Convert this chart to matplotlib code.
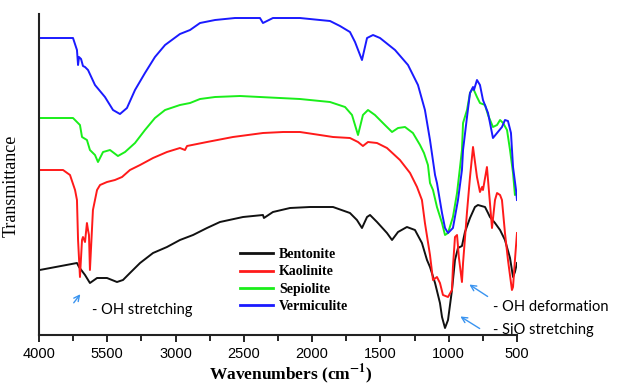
import matplotlib
matplotlib.use('Agg')
import matplotlib.pyplot as plt

plt.rcParams['mathtext.fontset'] = 'stix'

# wavenumber (cm-1) / transmittance (a.u.)
bent_x = [3995, 3722, 3707, 3663, 3627, 3575, 3502, 3429, 3385, 3334, 3260, 3165, 3063, 2968, 2872,
          2770, 2675, 2506, 2360, 2353, 2287, 2162, 2016, 1847, 1723, 1672, 1635, 1598, 1576, 1525,
          1452, 1415, 1371, 1306, 1247, 1196, 1159, 1137, 1100, 1064, 1049, 1027, 1005, 976, 954,
          932, 903, 881, 844, 808, 786, 734, 712, 698, 661, 624, 588, 551, 529, 515, 500]
bent_y = [65, 72, 68, 60, 52, 57, 57, 53, 55, 62, 72, 82, 88, 95, 100,
          107, 113, 118, 120, 117, 123, 127, 128, 128, 122, 115, 107, 118, 120, 113,
          102, 95, 103, 108, 105, 92, 75, 68, 52, 32, 18, 7, 15, 45, 75,
          87, 89, 103, 117, 128, 130, 128, 122, 118, 112, 105, 95, 77, 58, 63, 72]

kaol_x = [3995, 3824, 3773, 3736, 3722, 3714, 3700, 3685, 3678, 3663, 3649, 3641, 3634, 3627, 3605,
          3575, 3553, 3502, 3444, 3392, 3334, 3260, 3165, 3063, 2968, 2931, 2916, 2843, 2770, 2580,
          2360, 2213, 2089, 1943, 1847, 1723, 1664, 1628, 1591, 1525, 1452, 1357, 1283, 1232, 1196,
          1174, 1137, 1115, 1086, 1064, 1042, 1005, 976, 969, 954, 939, 925, 903, 895, 866,
          844, 822, 793, 771, 756, 749, 720, 712, 698, 683, 661, 646, 624, 610, 588,
          566, 537, 529, 515, 500]
kaol_y = [165, 165, 160, 145, 135, 95, 58, 95, 98, 93, 112, 105, 100, 65, 125,
          145, 150, 153, 155, 158, 165, 170, 177, 183, 187, 185, 189, 191, 193, 198,
          202, 203, 203, 200, 198, 197, 193, 189, 193, 192, 187, 175, 162, 148, 135,
          112, 80, 55, 58, 52, 40, 38, 45, 68, 98, 100, 77, 53, 72, 123,
          158, 188, 158, 143, 148, 145, 168, 155, 132, 107, 135, 142, 140, 135, 102,
          75, 45, 48, 75, 102]

sep_x = [3995, 3751, 3700, 3685, 3649, 3627, 3590, 3568, 3531, 3480, 3422, 3370, 3297, 3224, 3151,
         3077, 2968, 2894, 2821, 2711, 2528, 2382, 2089, 1869, 1759, 1708, 1664, 1628, 1591, 1540,
         1467, 1415, 1371, 1320, 1262, 1210, 1181, 1152, 1137, 1115, 1086, 1049, 1027, 1005, 969,
         939, 917, 903, 895, 866, 844, 822, 793, 771, 734, 712, 676, 646, 624, 602,
         573, 551, 529, 515, 500]
sep_y = [217, 217, 210, 198, 195, 185, 180, 173, 183, 185, 179, 183, 192, 205, 217,
         225, 230, 232, 236, 238, 239, 238, 236, 233, 228, 220, 200, 220, 225, 220,
         210, 203, 207, 208, 202, 190, 182, 170, 152, 145, 128, 112, 100, 102, 118,
         142, 168, 185, 212, 225, 242, 247, 238, 232, 230, 220, 208, 210, 215, 212,
         205, 185, 162, 140, 142]

verm_x = [3995, 3751, 3722, 3714, 3707, 3692, 3678, 3663, 3641, 3590, 3517, 3458, 3407, 3356, 3297,
          3224, 3151, 3077, 2968, 2894, 2821, 2711, 2565, 2382, 2360, 2287, 2089, 1943, 1869, 1796,
          1723, 1686, 1635, 1598, 1554, 1503, 1393, 1298, 1225, 1174, 1137, 1100, 1086, 1049, 1027,
          1005, 969, 932, 903, 895, 866, 844, 822, 815, 793, 771, 749, 712, 676, 646,
          610, 588, 566, 544, 529, 507, 500]
verm_y = [297, 297, 285, 270, 278, 276, 269, 268, 265, 250, 238, 225, 221, 227, 245,
          262, 278, 290, 301, 305, 312, 315, 317, 317, 312, 317, 317, 315, 314, 309,
          303, 293, 275, 297, 300, 297, 285, 270, 250, 225, 195, 160, 152, 122, 107,
          102, 107, 135, 165, 185, 218, 242, 248, 245, 255, 250, 235, 222, 197, 202,
          208, 215, 214, 202, 168, 145, 135]

names = ['Bentonite', 'Kaolinite', 'Sepiolite', 'Vermiculite']
colors = ['#111111', '#ff1a1a', '#1aee1a', '#1a1aff']
xticks = [4000, 3500, 3000, 2500, 2000, 1500, 1000, 500]
xtick_labels = ['4000', '5500', '3000', '2500', '2000', '1500', '1000', '500']

fig = plt.figure(figsize=(6.17, 3.88), dpi=100)
ax = fig.add_axes([0.0632, 0.1366, 0.7747, 0.8273])

series = [(bent_x, bent_y), (kaol_x, kaol_y), (sep_x, sep_y), (verm_x, verm_y)]
for (xs, ys), name, c in zip(series, names, colors):
    ax.plot(xs, ys, color=c, lw=1.4, label=name)

ax.set_xlim(4000, 500)
ax.set_ylim(0, 321)
ax.set_xticks(xticks)
ax.set_xticklabels(xtick_labels, fontfamily='Liberation Sans', fontsize=10.5)
ax.set_xticks([3750, 3250, 2750, 2250, 1750, 1250, 750], minor=True)
ax.tick_params(axis='x', which='major', length=5, width=1.2, pad=4)
ax.tick_params(axis='x', which='minor', length=4, width=1.2)
ax.set_yticks([])
for s in ['top', 'right']:
    ax.spines[s].set_visible(False)
for s in ['left', 'bottom']:
    ax.spines[s].set_linewidth(1.5)
    ax.spines[s].set_color('#222222')

ax.set_ylabel('Transmittance', fontfamily='Liberation Serif', fontsize=13)
ax.yaxis.set_label_coords(-0.04, 0.465)
ax.set_xlabel(r'Wavenumbers (cm$^{\mathbf{-1}}$)', fontfamily='Liberation Serif',
              fontweight='bold', fontsize=12.5)
ax.xaxis.set_label_coords(0.527, -0.083)

leg = ax.legend(loc='upper left', bbox_to_anchor=(0.4205, 0.27), frameon=False,
                borderpad=0, borderaxespad=0, handlelength=2.4, handletextpad=0.4,
                labelspacing=0.3, prop={'family': 'Liberation Serif', 'weight': 'bold', 'size': 10})
for line in leg.get_lines():
    line.set_linewidth(2)

arrow_c = '#3a94f0'
ax.annotate('', xy=(3685, 43), xytext=(3758, 30),
            arrowprops=dict(arrowstyle='->', color=arrow_c, lw=1))
ax.text(3612, 25, '- OH stretching', fontfamily='Lato', fontsize=10.5, va='center', ha='left')
ax.annotate('', xy=(866, 52), xytext=(698, 37),
            arrowprops=dict(arrowstyle='->', color=arrow_c, lw=1), annotation_clip=False)
ax.text(676, 28, '- OH deformation', fontfamily='Lato', fontsize=10.5, va='center', ha='left', clip_on=False)
ax.annotate('', xy=(932, 20), xytext=(756, 5),
            arrowprops=dict(arrowstyle='->', color=arrow_c, lw=1), annotation_clip=False)
ax.text(676, 5, '- SiO stretching', fontfamily='Lato', fontsize=10.5, va='center', ha='left', clip_on=False)

fig.savefig('out.png', dpi=100)
